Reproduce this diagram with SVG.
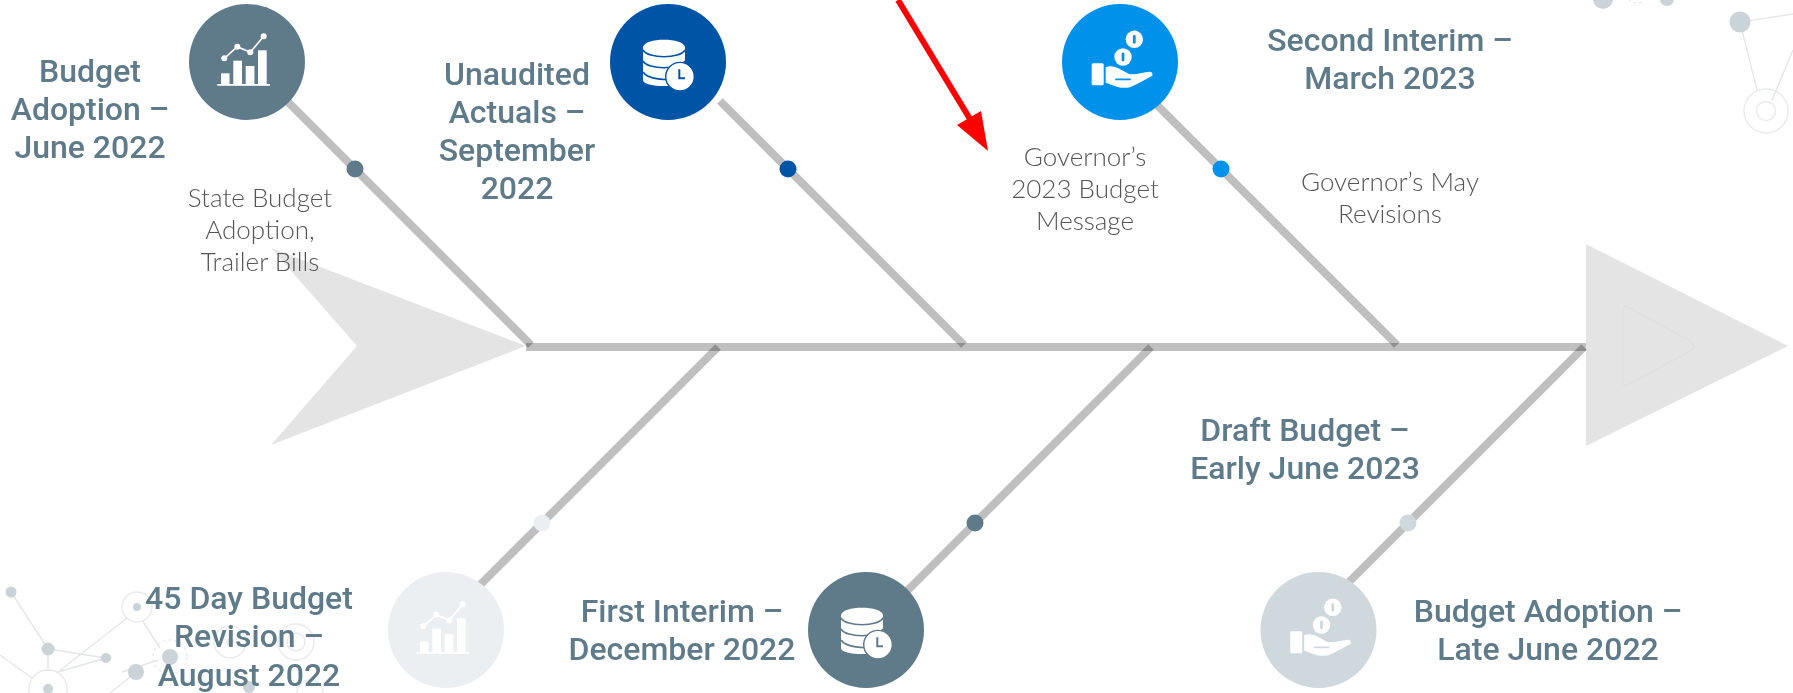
<svg xmlns="http://www.w3.org/2000/svg" width="1793" height="693" viewBox="0 0 1793 693">
<style>
.h{font-family:Roboto,"Liberation Sans",sans-serif;font-weight:500;font-size:32px;fill:#5f7b8a;text-anchor:middle}
.s{font-family:Lato,"Liberation Sans",sans-serif;font-weight:300;font-size:26px;fill:#555;text-anchor:middle}
.bone{stroke:#000;stroke-opacity:.25;stroke-width:8;fill:none}
.nl{stroke:#e4e6e7;stroke-width:1.4;fill:none}
.nd{fill:#c9d3d8}
.nr{stroke:#e8eaeb;stroke-width:1.4;fill:#fff}
.nr2{stroke:#e8eaeb;stroke-width:1.4;fill:none}
.nq{stroke:#e8eaeb;stroke-width:1.4;fill:none;stroke-dasharray:3 3}
.fish{fill:#e4e4e4}
</style>
<defs>
<filter id="soft" x="-5%" y="-5%" width="110%" height="110%"><feGaussianBlur stdDeviation=".5"/></filter>
<symbol id="i-chart" overflow="visible" viewBox="-60 -60 120 120" width="120" height="120">
<g fill="#fff">
<rect x="-26" y="11.3" width="8.5" height="10.7"/><rect x="-13.7" y="-1.3" width="8.7" height="23.3"/><rect x="-1.3" y="4" width="8.7" height="18"/><rect x="11" y="-11.7" width="8.7" height="33.7"/><rect x="-29.7" y="22" width="52.7" height="1.8"/>
<circle cx="-22.7" cy="-3.7" r="3"/><circle cx="-9.7" cy="-15.3" r="3"/><circle cx="3.3" cy="-9.7" r="3"/><circle cx="16.7" cy="-25.7" r="3"/>
</g>
<polyline points="-22.7,-3.7 -9.7,-15.3 3.3,-9.7 16.7,-25.7" fill="none" stroke="#fff" stroke-width="1.6"/>
</symbol>
<symbol id="i-db" overflow="visible" viewBox="-60 -60 120 120" width="120" height="120">
<path d="M-25-14.5C-25-25 17-25 17-14.5V18C17 26 -25 26 -25 18Z" fill="#fff"/>
<path d="M-25-12C-20-3 12-3 17-12M-25-1C-20 8 12 8 17-1M-25 10C-20 18 0 18 5 17" fill="none" stroke="currentColor" stroke-width="1.6"/>
<circle cx="12" cy="14.7" r="14.3" fill="#fff" stroke="currentColor" stroke-width="1.4"/>
<path d="M11.3 7.3V16.3H17" fill="none" stroke="currentColor" stroke-width="2"/>
</symbol>
<symbol id="i-hand" overflow="visible" viewBox="-60 -60 120 120" width="120" height="120">
<circle cx="14.3" cy="-22.7" r="8.7" fill="#fff"/><rect x="12.9" y="-27" width="2.8" height="8.7" rx="1.4" fill="currentColor"/>
<circle cx="3" cy="-5" r="8.7" fill="#fff"/><rect x="1.6" y="-9.4" width="2.8" height="8.7" rx="1.4" fill="currentColor"/>
<rect x="-28.3" y="1.3" width="12" height="22" rx="1.5" fill="#fff"/>
<path d="M-14.3 5.3C-9 3 -5 5 -1.7 6.3L9 12C16 13 24 10 30 9.7C32 9.7 33 12 32.3 13.7C26 17 18 22 10 25.3C6 26 3 26 -1.7 25.3L-14.3 20.7Z" fill="#fff"/>
<path d="M-4 17.3H10" stroke="currentColor" stroke-width="1.8" stroke-linecap="round" fill="none"/>
</symbol>
</defs>
<rect width="1793" height="693" fill="#fff"/>
<g id="background-network" filter="url(#soft)">
<path class="nl" d="M11 592L48 649V670M48 649L106 658M58 672L106 658M58 672L127 618M142 620L160 648M0 655L35 680M122 672L158 660M136 672L110 693"/>
<circle class="nr" cx="137" cy="607" r="15"/><circle class="nd" cx="137" cy="607" r="4"/>
<circle class="nd" cx="11" cy="592" r="5.500"/><circle class="nd" cx="48" cy="649" r="6.500"/><circle class="nd" cx="106" cy="658" r="5"/>
<circle class="nr" cx="48" cy="689" r="19"/><circle class="nd" cx="48" cy="689" r="5"/>
<circle class="nd" cx="136" cy="672" r="8"/>
<circle class="nq" cx="170" cy="657" r="17"/><circle class="nd" cx="170" cy="657" r="8"/>
<circle class="nr2" cx="230" cy="642" r="16"/><circle class="nd" cx="230" cy="642" r="4" opacity=".5"/>
<circle class="nr2" cx="296" cy="642" r="18"/><circle class="nr2" cx="296" cy="642" r="9"/>
<circle class="nd" cx="249" cy="687" r="6"/>
<circle class="nr2" cx="310" cy="693" r="13"/>
<path class="nl" d="M1740 22L1757 90M1740 22L1793 14M1793 50L1772 100"/>
<circle class="nd" cx="1740" cy="22" r="10.500"/><circle class="nd" cx="1603" cy="-1" r="10"/><circle class="nd" cx="1667" cy="-1" r="7"/>
<circle class="nq" cx="1637" cy="-8" r="11"/>
<circle class="nr2" cx="1766" cy="111" r="22"/><circle class="nr2" cx="1766" cy="111" r="9.500"/>
</g>
<g id="fish-tail"><polygon class="fish" points="271,248 526,346 271,445 357,346"/></g>
<g id="fish-head"><polygon class="fish" points="1586,244 1788,346 1586,446"/><path d="M1626 306L1692 342Q1696 346 1692 350L1626 386Q1623.500 387 1623.500 384V308Q1623.500 305 1626 306Z" fill="none" stroke="#dcdcdc" stroke-width=".8"/></g>
<g id="connectors">
<line class="bone" x1="526" y1="347" x2="1586" y2="347"/>
<line class="bone" x1="247" y1="61" x2="531" y2="345"/>
<line class="bone" x1="720" y1="101" x2="964" y2="345"/>
<line class="bone" x1="1120" y1="68" x2="1397" y2="345"/>
<line class="bone" x1="446" y1="619" x2="718" y2="347"/>
<line class="bone" x1="866" y1="632" x2="1151" y2="347"/>
<line class="bone" x1="1318" y1="613" x2="1584" y2="347"/>
<path d="M898 0L973 124" fill="none" stroke="#f00" stroke-width="6"/>
<polygon points="988,151 957,125 981,111" fill="#f00"/>
</g>
<g id="node-budget-adoption-june">
<circle cx="247" cy="62" r="58" fill="#5f7b8a"/><use href="#i-chart" x="187" y="2"/><circle cx="355" cy="169" r="8.500" fill="#5f7b8a"/>
<text class="h"><tspan x="90" y="82">Budget</tspan><tspan x="90" y="120">Adoption –</tspan><tspan x="90" y="158">June 2022</tspan></text>
<text class="s"><tspan x="260" y="207">State Budget</tspan><tspan x="260" y="239">Adoption,</tspan><tspan x="260" y="271">Trailer Bills</tspan></text>
</g>
<g id="node-unaudited-actuals">
<circle cx="668" cy="62" r="58" fill="#0054a6"/><use href="#i-db" x="608" y="2" color="#0054a6"/><circle cx="788" cy="169" r="8.500" fill="#0054a6"/>
<text class="h"><tspan x="517" y="85">Unaudited</tspan><tspan x="517" y="123">Actuals –</tspan><tspan x="517" y="161">September</tspan><tspan x="517" y="199">2022</tspan></text>
</g>
<g id="node-second-interim">
<circle cx="1120" cy="62" r="58" fill="#0091ea"/><use href="#i-hand" x="1060" y="2" color="#0091ea"/><circle cx="1221" cy="169" r="8.500" fill="#0091ea"/>
<text class="h"><tspan x="1390" y="51">Second Interim –</tspan><tspan x="1390" y="89">March 2023</tspan></text>
<text class="s"><tspan x="1390" y="191">Governor’s May</tspan><tspan x="1390" y="223">Revisions</tspan></text>
</g>
<g id="note-governors-message">
<text class="s"><tspan x="1085" y="166">Governor’s</tspan><tspan x="1085" y="198">2023 Budget</tspan><tspan x="1085" y="230">Message</tspan></text>
</g>
<g id="node-45-day">
<circle cx="446" cy="630" r="58" fill="#ebeff2"/><use href="#i-chart" x="386" y="570"/><circle cx="542" cy="523" r="8.500" fill="#ebeff2"/>
<text class="h"><tspan x="249" y="609">45 Day Budget</tspan><tspan x="249" y="647">Revision –</tspan><tspan x="249" y="686">August 2022</tspan></text>
</g>
<g id="node-first-interim">
<circle cx="866" cy="630" r="58" fill="#5f7b8a"/><use href="#i-db" x="806" y="570" color="#5f7b8a"/><circle cx="975" cy="523" r="8.500" fill="#5f7b8a"/>
<text class="h"><tspan x="682" y="622">First Interim –</tspan><tspan x="682" y="660">December 2022</tspan></text>
</g>
<g id="node-budget-adoption-late-june">
<circle cx="1318.500" cy="630" r="58" fill="#cfd8dd"/><use href="#i-hand" x="1258.500" y="570" color="#cfd8dd"/><circle cx="1408" cy="523" r="8.500" fill="#cfd8dd"/>
<text class="h"><tspan x="1548" y="622">Budget Adoption –</tspan><tspan x="1548" y="660">Late June 2022</tspan></text>
</g>
<g id="node-draft-budget">
<text class="h"><tspan x="1305" y="441">Draft Budget –</tspan><tspan x="1305" y="479">Early June 2023</tspan></text>
</g>
</svg>
